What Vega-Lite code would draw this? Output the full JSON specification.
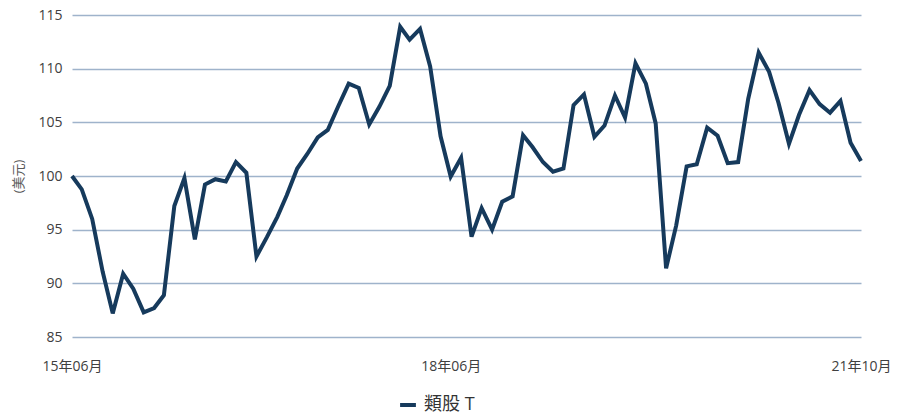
{
  "$schema": "https://vega.github.io/schema/vega-lite/v6.json",
  "width": 789,
  "height": 322,
  "autosize": {"type": "none"},
  "padding": {"left": 72, "top": 15, "right": 45, "bottom": 79},
  "background": "white",
  "config": {
    "view": {"stroke": null},
    "font": "Open Sans, Noto Sans CJK TC"
  },
  "data": {
    "values": [
      {"date": "2015-06-01", "value": 100.0},
      {"date": "2015-06-30", "value": 98.75},
      {"date": "2015-07-31", "value": 96.0},
      {"date": "2015-08-31", "value": 91.1},
      {"date": "2015-09-30", "value": 87.2},
      {"date": "2015-10-31", "value": 90.9},
      {"date": "2015-11-30", "value": 89.5},
      {"date": "2015-12-31", "value": 87.3},
      {"date": "2016-01-31", "value": 87.7},
      {"date": "2016-02-29", "value": 88.9},
      {"date": "2016-03-31", "value": 97.2},
      {"date": "2016-04-30", "value": 99.8},
      {"date": "2016-05-31", "value": 94.1},
      {"date": "2016-06-30", "value": 99.2},
      {"date": "2016-07-31", "value": 99.7},
      {"date": "2016-08-31", "value": 99.5},
      {"date": "2016-09-30", "value": 101.3},
      {"date": "2016-10-31", "value": 100.3},
      {"date": "2016-11-30", "value": 92.5},
      {"date": "2016-12-31", "value": 94.3},
      {"date": "2017-01-31", "value": 96.2},
      {"date": "2017-02-28", "value": 98.2},
      {"date": "2017-03-31", "value": 100.7},
      {"date": "2017-04-30", "value": 102.05},
      {"date": "2017-05-31", "value": 103.6},
      {"date": "2017-06-30", "value": 104.3},
      {"date": "2017-07-31", "value": 106.5},
      {"date": "2017-08-31", "value": 108.6},
      {"date": "2017-09-30", "value": 108.2},
      {"date": "2017-10-31", "value": 104.8},
      {"date": "2017-11-30", "value": 106.45},
      {"date": "2017-12-31", "value": 108.4},
      {"date": "2018-01-31", "value": 113.9},
      {"date": "2018-02-28", "value": 112.7},
      {"date": "2018-03-31", "value": 113.7},
      {"date": "2018-04-30", "value": 110.2},
      {"date": "2018-05-31", "value": 103.7},
      {"date": "2018-06-30", "value": 99.95},
      {"date": "2018-07-31", "value": 101.7},
      {"date": "2018-08-31", "value": 94.35},
      {"date": "2018-09-30", "value": 97.0},
      {"date": "2018-10-31", "value": 95.0},
      {"date": "2018-11-30", "value": 97.6},
      {"date": "2018-12-31", "value": 98.1},
      {"date": "2019-01-31", "value": 103.8},
      {"date": "2019-02-28", "value": 102.7},
      {"date": "2019-03-31", "value": 101.3},
      {"date": "2019-04-30", "value": 100.4},
      {"date": "2019-05-31", "value": 100.7},
      {"date": "2019-06-30", "value": 106.6},
      {"date": "2019-07-31", "value": 107.6},
      {"date": "2019-08-31", "value": 103.65},
      {"date": "2019-09-30", "value": 104.7},
      {"date": "2019-10-31", "value": 107.5},
      {"date": "2019-11-30", "value": 105.45},
      {"date": "2019-12-31", "value": 110.5},
      {"date": "2020-01-31", "value": 108.6},
      {"date": "2020-02-29", "value": 104.9},
      {"date": "2020-03-31", "value": 91.4},
      {"date": "2020-04-30", "value": 95.4},
      {"date": "2020-05-31", "value": 100.9},
      {"date": "2020-06-30", "value": 101.1},
      {"date": "2020-07-31", "value": 104.5},
      {"date": "2020-08-31", "value": 103.75},
      {"date": "2020-09-30", "value": 101.2},
      {"date": "2020-10-31", "value": 101.3},
      {"date": "2020-11-30", "value": 107.2},
      {"date": "2020-12-31", "value": 111.5},
      {"date": "2021-01-31", "value": 109.7},
      {"date": "2021-02-28", "value": 106.8},
      {"date": "2021-03-31", "value": 103.0},
      {"date": "2021-04-30", "value": 105.7},
      {"date": "2021-05-31", "value": 108.0},
      {"date": "2021-06-30", "value": 106.7},
      {"date": "2021-07-31", "value": 105.9},
      {"date": "2021-08-31", "value": 107.0},
      {"date": "2021-09-30", "value": 103.1},
      {"date": "2021-10-31", "value": 101.4}
    ]
  },
  "mark": {"type": "line", "strokeWidth": 4, "strokeJoin": "miter", "clip": false},
  "encoding": {
    "x": {
      "field": "date",
      "type": "temporal",
      "scale": {
        "type": "utc",
        "nice": false,
        "domain": [
          {"year": 2015, "month": 6, "date": 1, "utc": true},
          {"year": 2021, "month": 10, "date": 31, "utc": true}
        ]
      },
      "axis": {
        "title": null,
        "values": [
          {"year": 2015, "month": 6, "date": 1, "utc": true},
          {"year": 2018, "month": 6, "date": 30, "utc": true},
          {"year": 2021, "month": 10, "date": 31, "utc": true}
        ],
        "labelExpr": "utcFormat(datum.value, '%y年%m月')",
        "domain": false,
        "ticks": false,
        "grid": false,
        "labelFlush": false,
        "labelOverlap": false,
        "labelPadding": 22,
        "labelFontSize": 14,
        "labelColor": "#404040"
      }
    },
    "y": {
      "field": "value",
      "type": "quantitative",
      "scale": {"domain": [85, 115], "nice": false, "zero": false},
      "axis": {
        "title": "(美元)",
        "titleFontSize": 13,
        "titleFontWeight": "normal",
        "titleColor": "#595959",
        "titlePadding": 12,
        "values": [85, 90, 95, 100, 105, 110, 115],
        "domain": false,
        "ticks": false,
        "grid": true,
        "gridColor": "#9fb3cb",
        "gridWidth": 1.3,
        "labelPadding": 10,
        "labelFontSize": 14,
        "labelColor": "#404040"
      }
    },
    "color": {
      "datum": "類股 T",
      "type": "nominal",
      "scale": {"range": ["#163a5c"]},
      "legend": {
        "title": null,
        "orient": "none",
        "legendX": 326,
        "legendY": 380,
        "symbolType": "stroke",
        "symbolStrokeWidth": 4,
        "symbolSize": 250,
        "labelFontSize": 18,
        "labelColor": "#333333",
        "labelOffset": 6
      }
    }
  }
}
